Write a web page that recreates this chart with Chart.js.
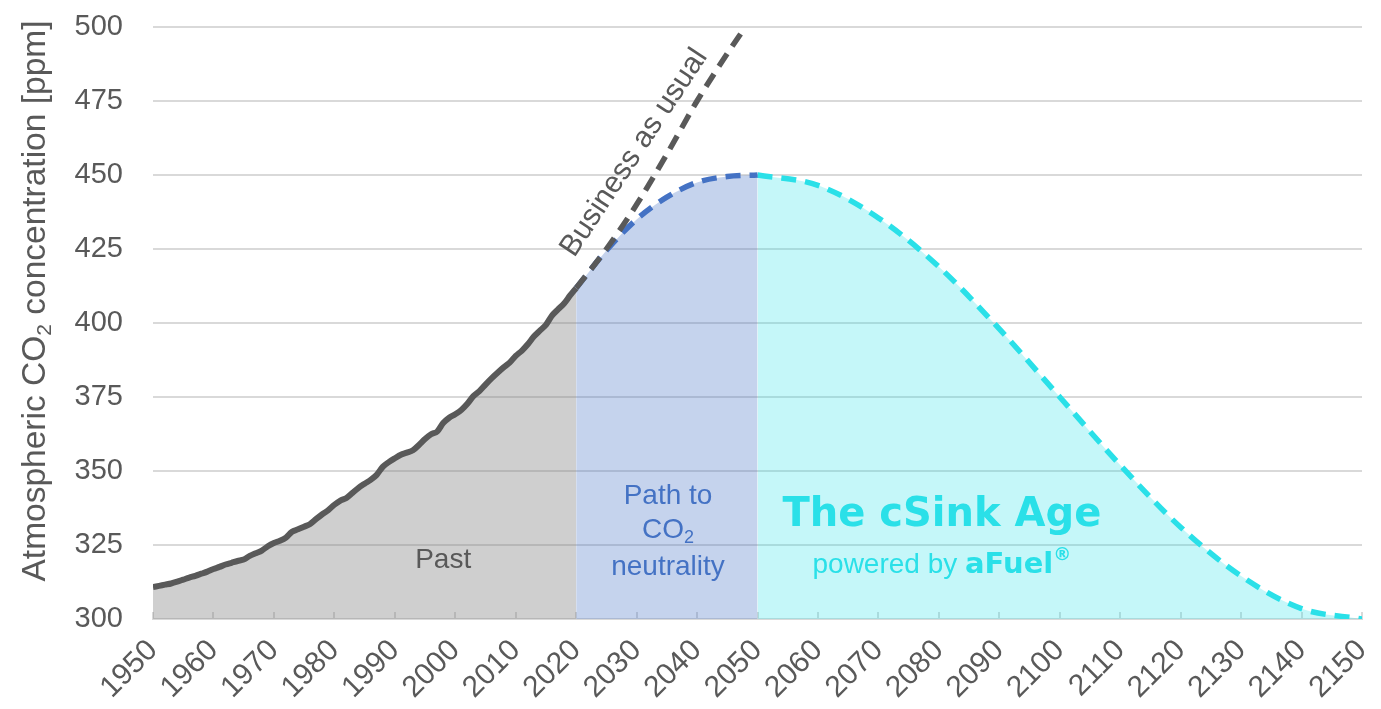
<!DOCTYPE html>
<html>
<head>
<meta charset="utf-8">
<script src="https://cdn.jsdelivr.net/npm/chart.js@4.4.1/dist/chart.umd.min.js"></script>
<style>
  html, body { margin: 0; padding: 0; background: #fff; }
  #wrap { width: 1381px; height: 709px; }
</style>
</head>
<body>
<div id="wrap"><canvas id="co2Chart" width="1381" height="709"></canvas></div>
<script>
// measured past concentration, one value per year from 1950
const pastCO2 = [
  310.8, 311.2, 311.6, 312.0, 312.6, 313.3, 314.0, 314.6, 315.3, 316.0,
  316.9, 317.6, 318.4, 319.0, 319.6, 320.1, 321.3, 322.2, 323.1, 324.6,
  325.7, 326.4, 327.5, 329.5, 330.3, 331.2, 332.1, 333.8, 335.4, 336.8,
  338.6, 340.0, 340.9, 342.6, 344.3, 345.7, 347.0, 348.7, 351.4, 353.0,
  354.3, 355.5, 356.2, 357.0, 358.8, 360.8, 362.4, 363.3, 366.2, 368.0,
  369.2, 370.6, 372.7, 375.3, 377.0, 379.2, 381.3, 383.2, 385.0, 386.6,
  388.9, 390.6, 392.8, 395.4, 397.4, 399.4, 402.5, 404.6, 406.6, 409.3,
  411.8
];
const pastYears = pastCO2.map((v, i) => 1950 + i);

const bauYears = [2020, 2025, 2030, 2035, 2040, 2045, 2048];
const bauCO2   = [411.8, 425, 440, 457, 475, 491, 500];

const pathYears = [2020, 2025, 2030, 2035, 2040, 2045, 2050];
const pathCO2   = [411.8, 424.5, 435, 442.5, 447.5, 449.5, 450];

const sinkYears = [2050, 2060, 2070, 2080, 2090, 2100, 2110, 2120, 2130, 2140, 2150];
const sinkCO2   = [450, 446.5, 435.5, 419, 398, 375, 352, 331, 314.5, 303.5, 300];

const yTicks = [300, 325, 350, 375, 400, 425, 450, 475, 500];

const GREY = '#595959';
const BLUE = '#4472c4';
const CYAN = '#2ae0e8';
const GRID = '#d9d9d9';

function toPoints(xs, ys) {
  return xs.map((x, i) => ({ x: x, y: ys[i] }));
}

// draws a run of text pieces (for subscripts) centred on x
function drawRich(ctx, parts, x, y) {
  let total = 0;
  parts.forEach(p => { ctx.font = p.font; total += ctx.measureText(p.text).width; });
  let cx = x - total / 2;
  ctx.textAlign = 'left';
  parts.forEach(p => {
    ctx.font = p.font;
    ctx.fillStyle = p.color;
    ctx.fillText(p.text, cx, y + (p.dy || 0));
    cx += ctx.measureText(p.text).width;
  });
}

const textPlugin = {
  id: 'textPlugin',
  beforeDatasetsDraw(chart) {
    const ctx = chart.ctx;
    const xs = chart.scales.x;
    const bottom = chart.chartArea.bottom;
    ctx.save();
    ctx.strokeStyle = GRID;
    ctx.lineWidth = 2;
    xs.ticks.forEach(t => {
      const px = Math.round(xs.getPixelForValue(t.value));
      ctx.beginPath();
      ctx.moveTo(px, bottom);
      ctx.lineTo(px, bottom - 7);
      ctx.stroke();
    });
    ctx.restore();
  },
  afterDatasetsDraw(chart) {
    const ctx = chart.ctx;
    const xs = chart.scales.x, ys = chart.scales.y;
    const X = v => xs.getPixelForValue(v), Y = v => ys.getPixelForValue(v);
    const f = 'px "Liberation Sans", Arial, sans-serif';
    const b = 'px "DejaVu Sans", sans-serif';
    ctx.save();
    ctx.textBaseline = 'middle';

    // region labels
    drawRich(ctx, [{ text: 'Past', font: '28' + f, color: GREY }], X(1998), Y(320));

    drawRich(ctx, [{ text: 'Path to', font: '28' + f, color: BLUE }], X(2035.2), Y(341.5));
    drawRich(ctx, [
      { text: 'CO', font: '28' + f, color: BLUE },
      { text: '2', font: '18' + f, color: BLUE, dy: 8 }
    ], X(2035.2), Y(330));
    drawRich(ctx, [{ text: 'neutrality', font: '28' + f, color: BLUE }], X(2035.2), Y(317.5));

    drawRich(ctx, [{ text: 'The cSink Age', font: 'bold 40' + b, color: CYAN }], X(2080.5), Y(334.8));
    drawRich(ctx, [
      { text: 'powered by ', font: '28' + f, color: CYAN },
      { text: 'aFuel', font: 'bold 29' + b, color: CYAN },
      { text: '®', font: 'bold 18' + b, color: CYAN, dy: -10 }
    ], X(2080.5), Y(318));

    // business as usual, along the dashed line
    ctx.save();
    ctx.translate(X(2029.6), Y(457.5));
    ctx.rotate(-56.5 * Math.PI / 180);
    drawRich(ctx, [{ text: 'Business as usual', font: '30' + f, color: GREY }], 0, 0);
    ctx.restore();

    // y axis title with subscript
    ctx.save();
    ctx.translate(36, (chart.chartArea.top + chart.chartArea.bottom) / 2 - 22);
    ctx.rotate(-Math.PI / 2);
    drawRich(ctx, [
      { text: 'Atmospheric CO', font: '33.5' + f, color: GREY },
      { text: '2', font: '21' + f, color: GREY, dy: 9 },
      { text: ' concentration [ppm]', font: '33.5' + f, color: GREY }
    ], 0, 0);
    ctx.restore();

    ctx.restore();
  }
};

const ctx = document.getElementById('co2Chart').getContext('2d');
const co2Chart = new Chart(ctx, {
  type: 'line',
  data: {
    datasets: [
      {
        label: 'Business as usual',
        data: toPoints(bauYears, bauCO2),
        borderColor: GREY,
        borderWidth: 5.5,
        borderDash: [15, 9],
        pointRadius: 0,
        fill: false,
        cubicInterpolationMode: 'monotone',
        clip: false
      },
      {
        label: 'Past',
        data: toPoints(pastYears, pastCO2),
        borderColor: GREY,
        backgroundColor: 'rgba(128, 128, 128, 0.38)',
        borderWidth: 6,
        pointRadius: 0,
        tension: 0.3,
        fill: 'start'
      },
      {
        label: 'Path to CO2 neutrality',
        data: toPoints(pathYears, pathCO2),
        borderColor: BLUE,
        backgroundColor: 'rgba(68, 114, 196, 0.31)',
        borderWidth: 5.5,
        borderDash: [15, 9],
        pointRadius: 0,
        cubicInterpolationMode: 'monotone',
        fill: 'start'
      },
      {
        label: 'The cSink Age',
        data: toPoints(sinkYears, sinkCO2),
        borderColor: CYAN,
        backgroundColor: 'rgba(42, 224, 232, 0.27)',
        borderWidth: 5.5,
        borderDash: [15, 9],
        pointRadius: 0,
        cubicInterpolationMode: 'monotone',
        fill: 'start'
      }
    ]
  },
  options: {
    responsive: false,
    animation: false,
    devicePixelRatio: 1,
    layout: { autoPadding: false, padding: { top: 27, right: 19, left: 0, bottom: 0 } },
    plugins: {
      legend: { display: false },
      tooltip: { enabled: false }
    },
    scales: {
      x: {
        type: 'linear',
        min: 1950,
        max: 2150,
        afterFit: s => {
          s.height = 90;
          s.paddingLeft = 0; s.paddingRight = 0;
        },
        grid: { display: false },
        border: { display: true, color: GRID, width: 2 },
        ticks: {
          stepSize: 10,
          autoSkip: false,
          maxRotation: 45,
          minRotation: 45,
          padding: 6,
          color: GREY,
          font: { family: '"Liberation Sans", Arial, sans-serif', size: 30 },
          callback: v => String(v)
        }
      },
      y: {
        min: 300,
        max: 500,
        afterFit: s => {
          s.width = 153;
          s.paddingTop = 0; s.paddingBottom = 0;
        },
        afterBuildTicks: s => { s.ticks = yTicks.map(v => ({ value: v })); },
        grid: { color: GRID, lineWidth: 2, drawTicks: false },
        border: { display: false },
        ticks: {
          padding: 30,
          color: GREY,
          font: { family: '"Liberation Sans", Arial, sans-serif', size: 29 }
        }
      }
    }
  },
  plugins: [textPlugin]
});
</script>
</body>
</html>
